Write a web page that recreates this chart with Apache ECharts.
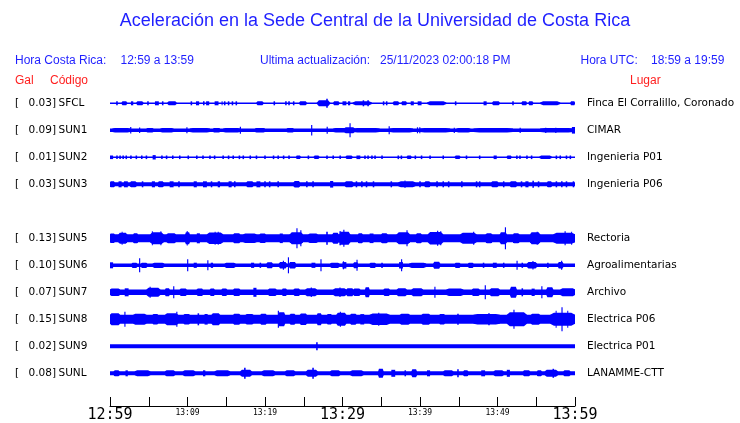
<!DOCTYPE html>
<html><head><meta charset="utf-8">
<script src="https://cdn.jsdelivr.net/npm/echarts@6/dist/echarts.min.js"></script>
<style>html,body{margin:0;padding:0;background:#fff}#c{width:740px;height:423px}</style>
</head><body><div id="c"></div><script>
// ---------- data ----------
const titleText = 'Aceleración en la Sede Central de la Universidad de Costa Rica';
const hdrLocalLabel = 'Hora Costa Rica:';
const hdrLocalRange = '12:59 a 13:59';
const hdrUpdLabel = 'Ultima actualización:';
const hdrUpdValue = '25/11/2023 02:00:18 PM';
const hdrUtcLabel = 'Hora UTC:';
const hdrUtcRange = '18:59 a 19:59';
const colGal = 'Gal', colCode = 'Código', colPlace = 'Lugar';

const codes = ['SFCL','SUN1','SUN2','SUN3','SUN5','SUN6','SUN7','SUN8','SUN9','SUNL'];
const places = ['Finca El Corralillo, Coronado','CIMAR','Ingenieria P01','Ingenieria P06','Rectoria','Agroalimentarias','Archivo','Electrica P06','Electrica P01','LANAMME-CTT'];
const galPeaks = ['0.03','0.09','0.01','0.03','0.13','0.10','0.07','0.15','0.02','0.08'];
const slots = [0,1,2,3,5,6,7,8,9,10];
// background (quiet) half-amplitude of each trace, relative units
const baseAmp = [0.7,1.8,0.7,2,4,1.8,2.7,4.5,2,2];
// bursts: [startMinute, endMinute, halfAmplitude]
const sfclBursts = [[0.8,1.0,2],[1.5,2.2,2],[2.7,3.0,2],[3.4,4.3,2],[4.8,5.0,2],[5.8,6.3,2],[6.7,6.9,2],[7.4,8.6,2],[10.4,10.6,2],[11.1,11.5,2],[12.0,12.2,2],[12.4,12.8,2],[13.5,14.0,2],[14.4,14.5,2],[14.7,14.9,2],[15.2,15.4,2],[15.7,15.9,2],[16.2,16.4,2],[18.9,19.8,2],[21.1,21.3,2],[22.6,22.8,2],[23.0,23.2,2],[23.6,23.8,2],[24.4,25.4,2],[26.7,28.4,3],[27.9,28.1,4.5],[28.8,29.6,2],[30.0,30.5,2],[30.7,31.0,2],[31.3,33.8,2],[32.6,32.8,3],[33.2,33.4,3],[35.2,35.4,2],[35.6,35.8,2],[36.5,37.3,2],[37.6,38.3,2],[38.8,39.2,2],[39.7,40.2,2],[40.9,43.4,2],[44.5,44.7,2],[48.2,48.6,2],[49.3,50.3,2],[51.9,52.1,2],[53.1,53.8,2],[54.0,54.6,2],[55.5,58.1,2],[59.4,60,2]];
const sun1Bursts = [[0.3,2.6,2.3],[4.7,5.6,2.3],[6.5,8.2,2.3],[10.3,12.9,2.3],[13.3,14.2,2.3],[14.6,16.8,2.3],[18.7,20.0,2.3],[22.8,23.7,2.3],[28.8,31.0,2.3],[31.4,34.8,2.3],[36.1,39.1,2.3],[40.0,43.9,2.3],[44.7,46.5,2.3],[46.9,52.0,2.3],[55.5,59.8,2.3],[59.6,60,3.3],[2.6,2.75,3.3],[3.75,3.9,2.8],[9.85,10.0,3],[16.75,16.9,3.5],[25.95,26.1,5.2],[27.95,28.1,3.5],[30.2,31.6,3],[30.9,31.05,7],[35.95,36.1,4],[39.6,39.75,3],[39.9,40.05,3],[44.35,44.5,2.6],[52.85,53.0,2.6],[56.15,56.3,2.6],[57.45,57.6,2.6]];
const sun2Bursts = [[0,0.4,1.8],[0.8,1.0,1.8],[1.2,1.4,1.8],[1.6,1.8,1.8],[2.0,2.2,1.8],[2.6,2.8,1.8],[3.3,3.5,1.8],[4.0,4.2,1.8],[4.6,4.8,1.8],[5.5,5.9,2.2],[6.6,6.8,1.8],[7.2,7.4,1.8],[8.0,8.2,1.8],[8.9,9.1,1.8],[10.0,10.2,1.8],[11.1,11.3,1.8],[11.9,12.1,1.8],[12.8,13.0,1.8],[13.4,13.6,1.8],[14.5,14.7,1.8],[15.2,15.4,1.8],[15.8,16.0,1.8],[16.6,16.8,1.8],[17.1,17.3,1.8],[18.0,18.2,1.8],[18.8,19.0,1.8],[19.9,20.1,1.8],[21.0,21.2,1.8],[21.6,21.8,1.8],[22.3,22.5,1.8],[23.0,23.2,1.8],[24.0,24.6,1.8],[25.5,25.7,1.8],[26.3,27.0,1.8],[27.9,28.1,1.8],[28.7,28.9,1.8],[29.6,29.8,1.8],[30.4,31.3,1.8],[31.8,32.3,1.8],[32.8,33.0,1.8],[33.2,33.4,1.8],[33.7,33.9,1.8],[34.1,34.3,1.8],[35.0,35.2,1.8],[37.1,37.3,1.8],[37.5,37.7,1.8],[38.3,38.9,1.8],[39.3,39.5,1.8],[40.1,40.3,1.8],[41.2,41.4,1.8],[42.9,43.1,1.8],[44.5,45.2,1.8],[45.9,46.1,1.8],[47.6,47.8,1.8],[49.5,49.9,1.8],[51.2,51.8,1.8],[52.4,52.6,1.8],[52.8,53.0,1.8],[53.7,53.9,1.8],[54.3,54.5,1.8],[55.4,57.0,1.8],[57.5,57.7,1.8],[58.0,58.2,1.8],[58.8,59.0,1.8],[59.3,59.5,1.8]];
const sun3Bursts = [[0,0.6,3],[1.1,1.5,3],[1.8,2.3,3],[2.6,3.4,3],[4.1,4.3,3],[5.4,5.8,3],[6.2,6.9,3],[7.7,8.2,3],[8.8,9.0,3],[10.8,11.2,3],[12.0,12.5,3],[13.0,13.2,3],[13.9,14.2,3],[15.3,15.7,3],[16.0,16.2,3],[17.6,18.5,3],[18.9,19.4,3],[19.9,20.1,3],[20.5,20.7,3],[21.6,21.8,3],[23.7,24.5,3.3],[25.3,25.5,3],[26.1,26.3,3],[28.4,28.8,3.3],[30.3,31.4,3],[31.7,31.9,3],[32.4,32.6,3],[33.0,33.2,3],[33.9,34.1,3],[36.2,36.4,3],[37.2,39.4,3],[38.0,38.1,3.8],[39.9,40.1,3],[40.6,41.3,3],[42.1,42.3,3],[42.9,43.1,3],[43.6,43.8,3],[45.3,45.5,3],[47.2,47.4,3],[47.6,47.8,3],[49.2,50.1,3],[50.7,50.9,3],[51.6,52.5,3],[53.0,53.2,3],[53.6,54.0,3],[54.5,54.7,3.5],[55.2,55.4,3],[56.4,57.0,3],[57.5,57.7,3],[58.2,58.4,3],[58.8,59.0,3],[59.7,59.9,3]];
const sun5Bursts = [[0,0.6,4.8],[1.1,2.2,5.5],[1.5,1.6,6.5],[3.0,3.6,5],[5.2,6.9,6],[5.4,5.5,7],[6.5,6.6,7],[7.3,8.5,5],[9.7,10.3,6],[9.9,10.0,7.3],[11.2,11.6,5],[12.5,14.6,5.8],[13.5,13.6,6.5],[13.9,14.0,6.5],[15.9,16.8,5],[17.2,18.9,4.8],[19.3,20.1,4.8],[21.9,22.3,4.8],[23.2,24.9,6],[24.05,24.2,10],[24.55,24.7,8],[25.6,26.8,4.8],[27.9,28.1,6.5],[28.7,29.5,5.5],[29.6,29.8,7],[29.6,31.0,6.5],[30.1,30.25,8.5],[32.0,32.6,5],[33.5,34.0,4.8],[35.0,35.8,5],[37.0,38.7,6],[38.25,38.4,8],[39.5,40.2,5],[41.0,43.0,6.3],[42.2,42.35,7.5],[42.6,42.75,7],[45.2,47.3,5.5],[46.85,47.0,6.5],[48.5,49.3,5],[50.3,51.2,6],[50.95,51.1,11],[52.0,52.8,5],[54.2,55.5,6],[55.05,55.2,6.5],[57.2,60,5.5],[58.65,58.8,7],[59.5,59.6,6.5]];
const sun6Bursts = [[0,0.4,3],[2.8,3.5,2.6],[3.75,3.9,7],[4.0,4.8,2.6],[5.5,7.0,2.6],[9.95,10.1,6],[10.8,11.2,2.6],[12.55,12.7,5],[13.0,13.3,2.6],[14.8,16.2,2.6],[18.2,18.6,2.6],[19.3,19.5,2.6],[20.2,21.0,3],[21.8,22.8,3.2],[22.3,22.45,4.5],[22.95,23.1,8],[23.1,24.0,3.2],[26.0,26.5,2.6],[27.15,27.3,6],[28.4,29.6,2.6],[30.0,30.5,3.2],[30.05,30.2,4],[31.4,32.0,3],[31.8,31.95,5.5],[33.5,34.3,2.6],[35.0,35.2,2.6],[37.3,37.8,3.2],[37.55,37.7,6],[38.6,40.8,2.6],[41.7,42.6,3.5],[44.5,45.2,2.6],[46.2,46.9,2.6],[48.1,48.3,2.6],[49.4,49.9,2.6],[50.7,50.9,2.6],[52.45,52.6,4.5],[53.1,53.3,2.6],[53.8,55.1,3.2],[54.5,54.65,4.2],[56.4,56.6,2.6],[57.8,58.5,3.2],[58.2,58.35,4.5]];
const sun7Bursts = [[0,1.3,3.7],[1.9,2.4,4],[4.7,6.5,4.5],[5.1,5.25,5.5],[7.1,7.7,4],[8.15,8.3,6],[9.0,9.9,3.7],[11.2,12.0,3.7],[12.9,13.5,3.7],[14.4,15.1,3.7],[15.9,16.8,3.7],[18.5,18.9,4.5],[20.4,21.5,3.7],[22.2,22.8,3.7],[23.7,24.5,3.7],[25.2,26.7,4],[25.9,26.05,4.8],[28.8,30.5,4],[29.6,29.75,4.8],[30.5,31.4,4],[31.4,32.3,3.7],[32.9,33.5,5],[35.3,36.1,3.7],[37.0,38.3,4],[38.9,40.4,4],[41.85,42.0,5.5],[43.4,45.6,3.7],[46.7,47.7,3.7],[48.35,48.5,7],[49.0,50.3,4],[51.6,52.5,5.5],[53.1,53.3,4],[54.4,54.8,3.7],[55.65,55.8,6],[56.3,57.2,5],[58.1,60,4]];
const sun8Bursts = [[0,1.3,6],[1.85,2.0,7.5],[3.0,4.7,5.5],[5.5,6.2,5.3],[7.1,8.8,6],[8.55,8.7,7.5],[9.5,10.3,5.3],[11.3,11.5,6],[12.2,12.6,5.3],[13.1,14.2,6],[15.9,16.8,5.5],[17.5,18.5,5.3],[19.4,20.2,5.5],[21.7,22.6,7],[21.65,21.8,8.5],[23.2,23.9,5.5],[24.5,25.4,5.8],[26.7,27.3,6],[28.0,28.6,5.3],[29.2,30.5,6.5],[29.65,29.8,7.5],[31.0,31.8,5.5],[32.3,32.8,5.2],[33.5,36.1,5.8],[34.6,34.75,6.5],[37.4,38.7,5.5],[40.2,41.3,5.5],[42.5,43.2,5.2],[44.8,45.0,5.5],[46.9,50.3,5.2],[48.8,49.0,6],[51.2,53.8,7],[52.05,52.2,9.5],[54.3,55.5,5.5],[56.8,60,6.5],[57.5,57.6,8.5],[58.25,58.4,12],[59.0,59.1,8.5]];
const sun9Bursts = [[26.6,26.8,4]];
const sunlBursts = [[0.5,1.2,3],[2.0,2.3,3],[3.2,5.2,3],[7.1,8.4,3],[9.4,11.0,3],[12.0,12.3,3],[13.5,15.5,3],[16.8,18.3,3.5],[17.3,17.5,5.5],[19.6,21.3,3],[22.6,23.9,3],[25.3,26.8,3.5],[26.1,26.3,5.5],[28.4,29.7,3],[31.0,32.7,3],[34.6,35.3,4.5],[36.3,36.8,3.5],[38.0,38.2,3],[38.9,39.6,4],[40.9,41.3,3],[43.0,44.3,3],[44.8,45.0,4],[45.6,46.2,3],[47.9,48.4,3],[49.5,50.8,3],[51.2,51.6,3.5],[53.3,54.2,3],[55.1,55.7,3],[56.1,57.8,3.5],[57.1,57.3,4.5],[58.5,59.4,3]];
const bursts = [sfclBursts,sun1Bursts,sun2Bursts,sun3Bursts,sun5Bursts,sun6Bursts,sun7Bursts,sun8Bursts,sun9Bursts,sunlBursts];
const spanMinutes = 60;
const tickStep = 5;
const tickLabels = ['12:59','13:09','13:19','13:29','13:39','13:49','13:59'];

// ---------- layout / style ----------
const BLUE = '#0000ff';
const TXT_BLUE = '#1f1fff';
const TXT_RED = '#ff1f1f';
const PLOT_L = 110, PLOT_W = 465;
const ROW0 = 103.3, ROW_GAP = 27, AMP_RANGE = 13.5;
const LBL_FONT = '10.5px "DejaVu Sans"';
const TAPER = 0.3;

const grids = [], xAxes = [], yAxes = [], series = [], texts = [];

function makeRenderItem(base) {
  return function (params, api) {
    const t0 = api.value(0), t1 = api.value(1), a = api.value(2);
    const w = t1 - t0;
    if (params.dataIndex === 0 || w <= 0.5 || a <= base) {
      const p0 = api.coord([t0, a]);
      const p1 = api.coord([t1, -a]);
      return {
        type: 'rect',
        shape: { x: p0[0], y: p0[1], width: Math.max(p1[0] - p0[0], 1), height: p1[1] - p0[1] },
        style: { fill: BLUE }
      };
    }
    // wide bursts: spindle (tapered ends) through the axis scales
    const tin0 = t0 + w * TAPER * 0.5, tin1 = t1 - w * TAPER * 0.5;
    const pts = [
      api.coord([t0, base]), api.coord([tin0, a]), api.coord([tin1, a]), api.coord([t1, base]),
      api.coord([t1, -base]), api.coord([tin1, -a]), api.coord([tin0, -a]), api.coord([t0, -base])
    ];
    return { type: 'polygon', shape: { points: pts }, style: { fill: BLUE } };
  };
}

codes.forEach((code, i) => {
  const cy = ROW0 + ROW_GAP * slots[i];
  grids.push({ left: PLOT_L, width: PLOT_W, top: cy - AMP_RANGE, height: AMP_RANGE * 2 });
  xAxes.push({ gridIndex: i, type: 'value', min: 0, max: spanMinutes, show: false });
  yAxes.push({ gridIndex: i, type: 'value', min: -AMP_RANGE, max: AMP_RANGE, show: false });
  series.push({
    type: 'custom', xAxisIndex: i, yAxisIndex: i, silent: true, clip: false,
    renderItem: makeRenderItem(baseAmp[i]), encode: { x: [0, 1], y: 2 },
    data: [[0, spanMinutes, baseAmp[i]]].concat(bursts[i])
  });
  texts.push({ type: 'text', x: 15, y: cy, style: { text: '[', font: LBL_FONT, fill: '#000', align: 'left', verticalAlign: 'middle' } });
  texts.push({ type: 'text', x: 56, y: cy, style: { text: galPeaks[i] + ']', font: LBL_FONT, fill: '#000', align: 'right', verticalAlign: 'middle' } });
  texts.push({ type: 'text', x: 58.5, y: cy, style: { text: code, font: LBL_FONT, fill: '#000', align: 'left', verticalAlign: 'middle' } });
  texts.push({ type: 'text', x: 587, y: cy, style: { text: places[i], font: LBL_FONT, fill: '#000', align: 'left', verticalAlign: 'middle' } });
});

// time axis
const ai = codes.length;
grids.push({ left: PLOT_L, width: PLOT_W, top: 380, height: 29 });
xAxes.push({
  gridIndex: ai, type: 'value', min: 0, max: spanMinutes, interval: tickStep,
  axisLine: { show: true, lineStyle: { color: '#000', width: 1 } },
  axisTick: { show: true, inside: true, length: 9, lineStyle: { color: '#000', width: 1 } },
  splitLine: { show: false },
  axisLabel: {
    show: true, margin: 1, showMinLabel: true, showMaxLabel: true, hideOverlap: false,
    formatter: (v) => {
      if (v % 10 !== 0) return '';
      const lbl = tickLabels[v / 10];
      return (v % 30 === 0) ? '{big|' + lbl + '}' : '{small|' + lbl + '}';
    },
    rich: {
      big: { fontFamily: 'DejaVu Sans Mono', fontSize: 15, color: '#000', padding: [1, 0, 0, 0] },
      small: { fontFamily: 'DejaVu Sans Mono', fontSize: 8, color: '#000', padding: [2, 0, 0, 0] }
    }
  }
});
yAxes.push({ gridIndex: ai, type: 'value', show: false });

// header texts
const HF = '12px "Liberation Sans"';
texts.push({ type: 'text', x: 375, y: 21, style: { text: titleText, font: '18px "Liberation Sans"', fill: TXT_BLUE, align: 'center', verticalAlign: 'middle' } });
texts.push({ type: 'text', x: 15, y: 60.7, style: { text: hdrLocalLabel, font: HF, fill: TXT_BLUE, align: 'left', verticalAlign: 'middle' } });
texts.push({ type: 'text', x: 120.5, y: 60.7, style: { text: hdrLocalRange, font: HF, fill: TXT_BLUE, align: 'left', verticalAlign: 'middle' } });
texts.push({ type: 'text', x: 260, y: 60.7, style: { text: hdrUpdLabel, font: HF, fill: TXT_BLUE, align: 'left', verticalAlign: 'middle' } });
texts.push({ type: 'text', x: 380, y: 60.7, style: { text: hdrUpdValue, font: HF, fill: TXT_BLUE, align: 'left', verticalAlign: 'middle' } });
texts.push({ type: 'text', x: 580.5, y: 60.7, style: { text: hdrUtcLabel, font: HF, fill: TXT_BLUE, align: 'left', verticalAlign: 'middle' } });
texts.push({ type: 'text', x: 651, y: 60.7, style: { text: hdrUtcRange, font: HF, fill: TXT_BLUE, align: 'left', verticalAlign: 'middle' } });
texts.push({ type: 'text', x: 15, y: 80.7, style: { text: colGal, font: HF, fill: TXT_RED, align: 'left', verticalAlign: 'middle' } });
texts.push({ type: 'text', x: 50, y: 80.7, style: { text: colCode, font: HF, fill: TXT_RED, align: 'left', verticalAlign: 'middle' } });
texts.push({ type: 'text', x: 630, y: 80.7, style: { text: colPlace, font: HF, fill: TXT_RED, align: 'left', verticalAlign: 'middle' } });

const chart = echarts.init(document.getElementById('c'), null, { renderer: 'canvas' });
chart.setOption({
  animation: false,
  backgroundColor: '#fff',
  grid: grids, xAxis: xAxes, yAxis: yAxes, series,
  graphic: { elements: texts }
});
</script></body></html>
